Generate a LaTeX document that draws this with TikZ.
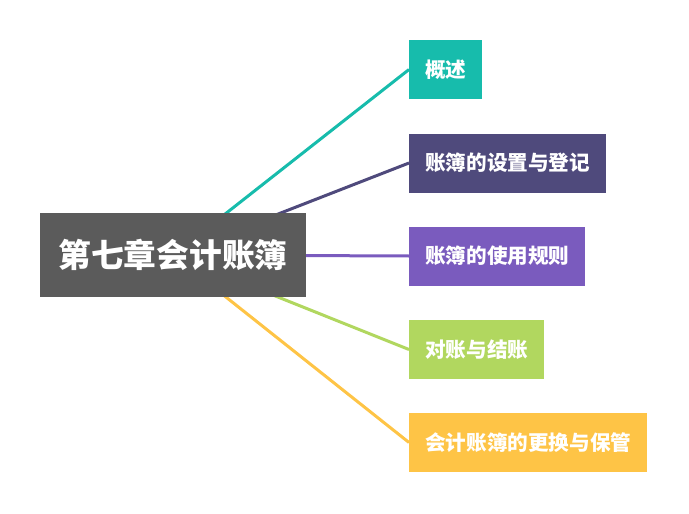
\documentclass[tikz,border=0pt]{standalone}
\usepackage{fontspec}
\newfontfamily\cjk{Noto Sans CJK SC}
\usepackage{xcolor}
\usetikzlibrary{positioning,backgrounds}

\definecolor{rootgray}{HTML}{5B5B5B}
\definecolor{teal}{HTML}{17BCAC}
\definecolor{darkviolet}{HTML}{4F4A7C}
\definecolor{violet}{HTML}{7A5BBE}
\definecolor{lime}{HTML}{B1D75F}
\definecolor{amber}{HTML}{FEC446}

\begin{document}
\begin{tikzpicture}[x=1pt, y=-1pt,
  root/.style={rectangle, fill=rootgray, text=white, minimum width=266pt, minimum height=84pt,
               inner xsep=0pt, font=\cjk\bfseries\fontsize{32.7}{33}\selectfont},
  leaf/.style={rectangle, text=white, minimum height=59pt, inner xsep=16pt, anchor=west,
               font=\cjk\bfseries\fontsize{20.6}{21}\selectfont},
  branch/.style={line width=3pt}]
  \useasboundingbox (0,0) rectangle (689,514);
  \node[root] (root) at (173,255) {第七章会计账簿};
  \node[leaf, fill=teal] (intro) at (409,69.5) {概述};
  \node[leaf, fill=darkviolet] (setup) at (409,163) {账簿的设置与登记};
  \node[leaf, fill=violet] (rules) at (409,256) {账簿的使用规则};
  \node[leaf, fill=lime] (close) at (409,349.5) {对账与结账};
  \node[leaf, fill=amber] (keep) at (409,442.5) {会计账簿的更换与保管};
  \begin{scope}[on background layer]
    \draw[branch, teal] (root.center) -- (intro.west);
    \draw[branch, darkviolet] (root.center) -- (setup.west);
    \draw[branch, violet] (root.center) -- (rules.west);
    \draw[branch, lime] (root.center) -- (close.west);
    \draw[branch, amber] (root.center) -- (keep.west);
  \end{scope}
\end{tikzpicture}
\end{document}
